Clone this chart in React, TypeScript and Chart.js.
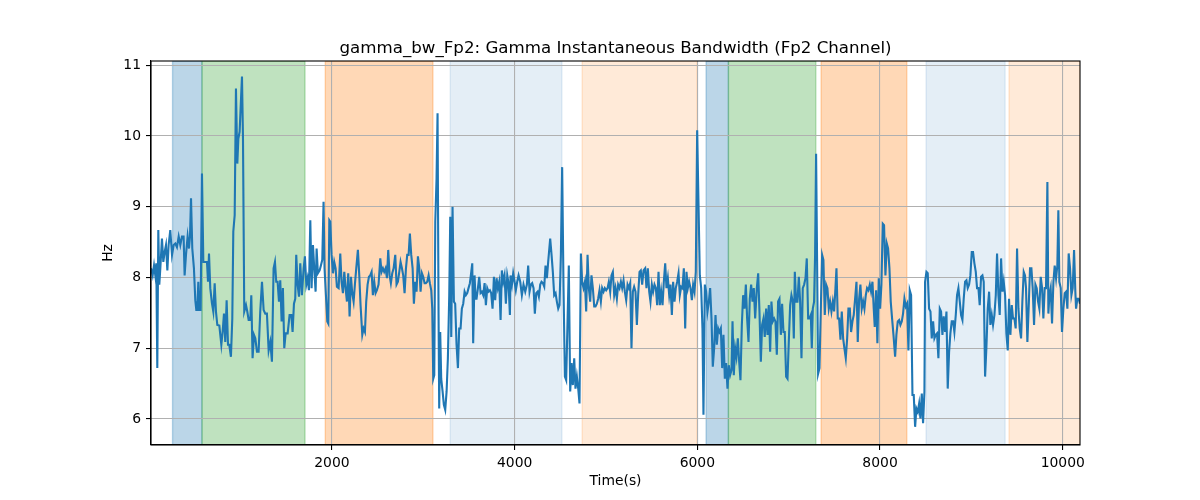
import React, { useEffect, useRef } from 'react';
import { Chart, registerables } from 'chart.js';

Chart.register(...registerables);

const FONT = "'DejaVu Sans', 'Liberation Sans', sans-serif";

const titleText = 'gamma_bw_Fp2: Gamma Instantaneous Bandwidth (Fp2 Channel)';
const xLabel = 'Time(s)';
const yLabel = 'Hz';

const timeSec: number[] = [
  19, 37, 52, 66, 77, 88, 99, 110, 121, 139, 154, 168, 183, 198, 212, 230, 249, 267, 285, 303,
  322, 340, 358, 376, 387, 402, 420, 435, 446, 457, 471, 489, 504, 515, 526, 537, 548, 562, 577, 592,
  613, 632, 643, 654, 668, 686, 701, 716, 730, 745, 767, 789, 803, 818, 832, 847, 862, 876, 894, 909,
  920, 935, 949, 964, 975, 989, 1015, 1026, 1040, 1059, 1073, 1088, 1106, 1117, 1131, 1146, 1161, 1179, 1197, 1215,
  1234, 1252, 1270, 1288, 1307,
  1325, 1343, 1361, 1376, 1390, 1405, 1420, 1434, 1449, 1463, 1478, 1493, 1515, 1536, 1555, 1569, 1584, 1598, 1609, 1624,
  1639, 1653, 1671, 1690, 1704, 1719, 1733, 1748, 1763, 1777, 1792, 1806, 1821, 1832, 1846, 1865, 1879, 1894, 1908, 1919,
  1934, 1949, 1960, 1971, 1981, 1996, 2011, 2025, 2040, 2054, 2073, 2091, 2105, 2120, 2135, 2149, 2164, 2178, 2193, 2208,
  2222, 2237, 2251, 2266, 2284, 2299, 2313, 2332, 2346, 2361, 2375, 2390, 2405, 2419, 2434, 2448, 2463, 2478, 2492, 2510,
  2529, 2543, 2558, 2572, 2587, 2602, 2616, 2631, 2645, 2660, 2675,
  2693, 2707, 2722, 2737, 2751, 2766, 2780, 2795, 2810, 2824, 2839, 2853, 2868, 2883, 2897, 2912, 2926, 2941, 2956, 2970,
  2985, 2999, 3014, 3028, 3043, 3058, 3072, 3087, 3098, 3109, 3120, 3131, 3145, 3156, 3167, 3174, 3185, 3196, 3211, 3225,
  3240, 3255, 3269, 3284, 3295, 3306, 3320, 3335, 3349, 3364, 3379, 3393, 3408, 3422, 3437, 3452, 3466, 3481, 3495, 3510,
  3525, 3536, 3546, 3561, 3572, 3583, 3598, 3612, 3627, 3641, 3656, 3671, 3685, 3700, 3714, 3729, 3743, 3758, 3773, 3787,
  3802, 3816, 3831, 3846, 3860, 3875, 3889, 3904, 3919, 3933, 3948, 3955, 3970, 3984, 3999, 4013, 4028, 4043,
  4061, 4079, 4097, 4116, 4134, 4148, 4163, 4178, 4192, 4207, 4221, 4236, 4251, 4265, 4280, 4294, 4309, 4324, 4338, 4353,
  4367, 4389, 4404, 4418, 4433, 4448, 4462, 4477, 4491, 4506, 4520, 4535, 4550, 4564, 4579, 4593, 4608, 4623, 4637, 4652,
  4666, 4681, 4696, 4710, 4725, 4739, 4754, 4769, 4783, 4798, 4812, 4827, 4841, 4856, 4871, 4885, 4900, 4914, 4929, 4944,
  4958, 4973, 4987, 5002, 5017, 5031, 5046, 5060, 5075, 5090, 5104, 5119, 5133, 5148, 5163, 5177, 5192, 5206, 5221, 5236,
  5250, 5265, 5279, 5294, 5308, 5323, 5338, 5352, 5367, 5381, 5396, 5411,
  5429, 5443, 5458, 5473, 5487, 5502, 5516, 5531, 5546, 5560, 5575, 5589, 5604, 5619, 5633, 5648, 5662, 5677, 5692, 5706,
  5721, 5735, 5750, 5764, 5779, 5794, 5808, 5823, 5837, 5852, 5867, 5881, 5896, 5910, 5925, 5940, 5954, 5969, 5983, 5998,
  6013, 6027, 6042, 6056, 6067, 6082, 6096, 6111, 6126, 6140, 6155, 6169, 6184, 6199, 6213, 6228, 6242, 6257, 6272, 6286,
  6301, 6315, 6330, 6344, 6359, 6374, 6385, 6399, 6414, 6428, 6443, 6458, 6472, 6487, 6501, 6516, 6531, 6545, 6560, 6574,
  6589, 6604, 6618, 6633, 6651, 6666, 6680, 6695, 6709, 6724, 6738, 6753, 6768, 6782,
  6797, 6811, 6826, 6841, 6855, 6870, 6884, 6899, 6914, 6928, 6943, 6957, 6972, 6987, 7001, 7016, 7030, 7045, 7056, 7067,
  7081, 7096, 7111, 7125, 7140, 7154, 7169, 7184, 7198, 7213, 7227, 7242, 7253, 7264, 7278, 7289, 7300, 7311, 7322, 7337,
  7351, 7366, 7380, 7395, 7410, 7424, 7439, 7453, 7468, 7483, 7497, 7512, 7523, 7537, 7552, 7567, 7581, 7596, 7610, 7625,
  7640, 7654, 7669, 7683, 7698, 7712, 7727, 7742, 7756, 7771, 7785, 7800, 7815, 7829, 7844, 7858, 7873, 7888, 7902, 7917,
  7931, 7942, 7957, 7971, 7986, 8001, 8015, 8030, 8044, 8059, 8074, 8088, 8103, 8117, 8132, 8147,
  8165, 8179, 8194, 8209, 8223, 8238, 8252, 8267, 8282, 8296, 8311, 8325, 8340, 8355, 8369, 8384, 8398, 8413, 8428, 8442,
  8457, 8471, 8486, 8493, 8508, 8522, 8537, 8552, 8566, 8581, 8595, 8610, 8624, 8639, 8654, 8668, 8683, 8697, 8712, 8727,
  8741, 8756, 8770, 8785, 8800, 8814, 8829, 8843, 8858, 8873, 8887, 8902, 8916, 8931, 8946, 8960, 8975, 8989, 9004, 9018,
  9033, 9048, 9062, 9077, 9091, 9106, 9121, 9135, 9150, 9164, 9179, 9194, 9208, 9223, 9237, 9252, 9267, 9281, 9296, 9310,
  9325, 9340, 9354, 9369, 9383, 9398, 9412, 9427, 9442, 9456, 9471, 9485, 9500, 9515, 9529, 9544, 9558, 9573,
  9587, 9598, 9613, 9628, 9642, 9657, 9671, 9686, 9701, 9715, 9730, 9744, 9759, 9774, 9788, 9803, 9817, 9832, 9843, 9854,
  9868, 9883, 9898, 9912, 9927, 9941, 9952, 9963, 9978, 9992, 10007, 10022, 10036, 10051, 10065, 10080, 10095, 10109, 10124, 10138,
  10146, 10160, 10175, 10189,
];

const bandwidthHz: number[] = [
  8.13, 8.03, 8.17, 8.03, 8.2, 6.72, 8.67, 7.9, 8.13, 8.55, 8.22, 8.36, 8.46, 8.1, 8.46, 8.67, 8.32, 8.46, 8.48, 8.43,
  8.58, 8.46, 8.58, 8.58, 8.03, 8.32, 8.58, 8.41, 8.58, 9.12, 8.41, 8.13, 7.68, 7.54, 7.54, 7.94, 7.54, 7.54, 9.47, 8.22,
  8.22, 8.22, 7.94, 8.34, 7.85, 7.64, 7.52, 7.92, 7.52, 7.33, 7.32, 7.05, 7.23, 7.49, 7.09, 7.68, 7.05, 7.05, 6.88, 7.42,
  8.65, 8.88, 10.67, 9.61, 9.96, 10.06, 10.84, 9.96, 7.52, 7.61, 7.52, 7.4, 7.4, 7.75, 6.86, 7.19, 7.14, 6.95, 6.95, 7.52,
  7.94, 7.54, 7.49, 7.49, 6.97,
  7.09, 6.81, 8.13, 8.22, 7.94, 7.94, 7.66, 7.96, 7.38, 7.85, 7.0, 7.21, 7.21, 7.47, 7.47, 7.23, 7.63, 7.7, 8.32, 7.9,
  7.73, 8.2, 7.75, 8.13, 8.3, 7.9, 7.99, 7.82, 8.81, 7.85, 8.46, 8.13, 7.8, 8.41, 8.06, 8.1, 8.17, 8.25, 9.07, 8.13,
  7.75, 7.38, 7.35, 8.81, 8.79, 8.32, 8.06, 8.22, 8.13, 7.87, 7.85, 8.34, 7.94, 7.78, 8.08, 7.85, 7.66, 8.06, 7.45, 8.01,
  7.78, 7.66, 7.9, 8.13, 8.39, 8.03, 7.61, 7.19, 7.28, 7.23, 7.66, 7.9, 8.01, 8.03, 8.08, 7.75, 7.94, 7.78, 7.82, 7.9,
  8.27, 8.08, 8.13, 8.08, 8.13, 7.99, 8.39, 8.03, 7.92, 8.06, 8.13,
  8.32, 7.9, 7.94, 8.08, 8.22, 8.13, 8.03, 7.78, 8.13, 8.32, 8.32, 8.62, 8.32, 8.13, 7.63, 7.94, 7.8, 8.3, 8.13, 7.8,
  8.06, 8.01, 7.92, 7.92, 7.94, 8.03, 7.92, 7.82, 7.56, 6.57, 6.62, 8.79, 9.4, 10.32, 7.47, 6.15, 7.23, 6.57, 6.39, 6.2,
  6.13, 6.39, 6.86, 7.75, 8.86, 7.16, 9.0, 7.66, 7.63, 7.05, 6.72, 7.28, 7.28, 7.56, 7.63, 7.8, 7.75, 7.78, 7.85, 7.92,
  8.08, 8.2, 7.07, 8.03, 7.7, 7.7, 7.85, 8.01, 7.78, 7.8, 7.75, 7.92, 7.61, 7.85, 7.8, 7.82, 7.78, 7.56, 8.01, 7.68,
  7.99, 7.85, 7.94, 7.4, 8.1, 7.94, 8.03, 7.63, 8.03, 7.92, 7.47, 8.03, 7.9, 8.06, 7.94, 7.82, 7.94, 8.03,
  7.94, 7.75, 7.9, 7.8, 7.9, 8.17, 7.8, 7.9, 7.92, 7.85, 7.49, 7.78, 7.8, 7.73, 7.9, 7.94, 7.92, 7.87, 8.17, 7.99,
  8.22, 8.55, 8.32, 8.08, 7.75, 7.78, 7.66, 7.56, 7.61, 8.32, 9.56, 7.85, 6.6, 6.55, 7.38, 8.17, 6.39, 6.79, 6.48, 6.86,
  6.43, 6.6, 6.43, 6.22, 8.34, 7.94, 7.85, 7.94, 7.52, 8.32, 7.85, 7.66, 8.03, 7.85, 7.59, 7.59, 7.63, 7.7, 7.82, 7.66,
  7.85, 7.8, 7.85, 7.82, 7.85, 7.94, 7.8, 8.03, 8.08, 7.75, 7.85, 7.7, 7.9, 7.85, 7.94, 7.85, 7.96, 7.8, 7.68, 7.9,
  7.85, 7.92, 7.0, 7.8, 7.87, 7.8, 7.33, 7.75, 8.08, 8.1, 7.9, 8.1,
  8.13, 7.85, 8.13, 7.8, 7.66, 7.9, 7.8, 7.9, 7.85, 7.61, 8.08, 7.61, 7.8, 7.61, 7.94, 8.2, 7.85, 7.99, 7.75, 7.9,
  7.47, 7.94, 7.66, 7.85, 7.94, 8.06, 7.75, 7.87, 7.85, 8.13, 7.28, 8.08, 7.85, 7.94, 7.85, 7.68, 7.9, 7.8, 8.08, 10.08,
  9.02, 8.03, 7.85, 7.28, 6.06, 7.9, 7.8, 7.52, 7.66, 7.85, 7.42, 6.74, 7.0, 7.47, 7.05, 7.28, 7.23, 7.28, 6.72, 7.19,
  6.57, 6.79, 6.43, 6.76, 6.62, 6.69, 7.38, 6.62, 7.0, 6.88, 7.14, 6.81, 6.55, 7.33, 7.75, 7.56, 7.9, 7.42, 7.09, 7.7,
  7.9, 7.66, 7.85, 7.42, 7.85, 8.06, 7.52, 6.81, 7.33, 7.42, 7.16, 7.56, 7.19, 7.61,
  6.95, 7.66, 7.38, 7.42, 7.38, 6.91, 7.66, 7.7, 7.19, 7.63, 7.23, 7.23, 6.6, 6.57, 7.09, 7.61, 7.75, 7.66, 7.14, 8.08,
  7.66, 7.66, 8.01, 7.66, 6.86, 7.85, 7.9, 7.99, 8.27, 7.42, 7.42, 7.47, 7.0, 7.56, 7.66, 8.32, 9.75, 8.22, 6.64, 6.72,
  7.52, 8.32, 8.25, 7.47, 7.9, 7.85, 7.56, 7.66, 7.52, 7.66, 7.52, 7.85, 8.13, 7.42, 7.42, 7.12, 7.52, 7.14, 7.0, 6.86,
  7.14, 7.56, 7.56, 7.23, 7.38, 7.47, 7.7, 7.94, 7.09, 7.7, 7.9, 7.56, 7.66, 7.56, 7.75, 7.85, 7.82, 7.9, 7.8, 7.94,
  7.56, 7.3, 7.82, 7.07, 7.99, 7.56, 7.9, 8.76, 8.74, 8.03, 8.48, 8.41, 8.13, 7.66, 7.42, 7.19,
  6.88, 7.19, 7.38, 7.4, 7.33, 7.38, 7.49, 7.7, 7.59, 7.63, 6.97, 7.82, 7.75, 6.34, 6.34, 5.89, 6.15, 6.1, 6.22, 6.01,
  6.36, 5.94, 6.39, 7.94, 8.08, 8.06, 7.56, 7.52, 7.14, 7.38, 7.14, 7.19, 7.21, 6.86, 7.56, 7.52, 7.19, 7.45, 7.23, 7.52,
  6.43, 6.95, 7.21, 7.38, 7.38, 7.23, 7.47, 7.75, 7.85, 7.66, 7.47, 7.4, 7.7, 7.94, 7.96, 7.85, 7.9, 8.03, 8.36, 8.36,
  8.2, 8.08, 7.85, 7.85, 7.61, 8.01, 8.03, 7.94, 6.6, 7.0, 7.56, 7.8, 7.33, 7.47, 7.33, 7.47, 7.75, 8.34, 7.75, 7.47,
  8.27, 7.8, 7.94, 7.75, 7.21, 6.97, 7.7, 7.19, 7.61, 7.42, 7.42, 7.28, 8.41, 7.56, 7.28, 7.14, 7.66, 8.08,
  8.03, 7.85, 7.09, 7.61, 8.13, 8.13, 7.85, 7.33, 7.9, 7.85, 7.66, 7.56, 8.01, 7.85, 7.42, 7.85, 7.85, 9.35, 7.49, 7.75,
  7.85, 7.35, 7.94, 8.17, 7.99, 8.17, 8.95, 7.94, 7.85, 7.23, 7.56, 7.78, 7.8, 7.56, 8.34, 8.13, 7.75, 7.85, 8.39, 7.8,
  7.56, 7.7, 7.7, 7.63,
];

// Shaded epochs (axvspan)
const spanStart: number[] = [255, 577, 1927, 3295, 4739, 6096, 6340, 7355, 8504, 9412];
const spanEnd: number[] = [577, 1705, 3105, 4517, 5995, 6340, 7297, 8293, 9369, 10189];
const spanColor: string[] = [
  'rgba(31,119,180,0.3)',
  'rgba(44,160,44,0.3)',
  'rgba(255,127,14,0.3)',
  'rgba(31,119,180,0.12)',
  'rgba(255,127,14,0.16)',
  'rgba(31,119,180,0.3)',
  'rgba(44,160,44,0.3)',
  'rgba(255,127,14,0.3)',
  'rgba(31,119,180,0.12)',
  'rgba(255,127,14,0.16)',
];

const xTickValues: number[] = [2000, 4000, 6000, 8000, 10000];
const yTickValues: number[] = [6, 7, 8, 9, 10, 11];
const xMin = 19;
const xMax = 10189;
const yMin = 5.633;
const yMax = 11.06;

export default function App() {
  const canvasRef = useRef<HTMLCanvasElement>(null);

  useEffect(() => {
    document.body.style.margin = '0';
    const canvas = canvasRef.current;
    if (!canvas) return;

    const spansPlugin = {
      id: 'spans',
      beforeDraw(chart: any) {
        const { ctx, chartArea, scales } = chart;
        const h = chartArea.bottom - chartArea.top;
        ctx.save();
        ctx.beginPath();
        ctx.rect(chartArea.left, chartArea.top, chartArea.right - chartArea.left, h);
        ctx.clip();
        for (let i = 0; i < spanStart.length; i++) {
          const x0 = scales.x.getPixelForValue(spanStart[i]);
          const x1 = scales.x.getPixelForValue(spanEnd[i]);
          ctx.fillStyle = spanColor[i];
          ctx.fillRect(x0, chartArea.top, x1 - x0, h);
          ctx.strokeStyle = spanColor[i];
          ctx.lineWidth = 1.4;
          ctx.strokeRect(x0, chartArea.top, x1 - x0, h);
        }
        ctx.restore();
      },
    };

    const framePlugin = {
      id: 'frame',
      afterDatasetsDraw(chart: any) {
        const { ctx, chartArea } = chart;
        ctx.save();
        ctx.strokeStyle = '#000';
        ctx.lineWidth = 1.1;
        ctx.strokeRect(
          chartArea.left,
          chartArea.top,
          chartArea.right - chartArea.left,
          chartArea.bottom - chartArea.top
        );
        ctx.restore();
      },
    };

    const tickFont = { family: FONT, size: 13.9, lineHeight: 1.2 };

    const chart = new Chart(canvas, {
      type: 'line',
      data: {
        datasets: [
          {
            data: timeSec.map((t, i) => ({ x: t, y: bandwidthHz[i] })),
            borderColor: '#1f77b4',
            borderWidth: 2.1,
            pointRadius: 0,
            pointHoverRadius: 0,
            tension: 0,
            fill: false,
          },
        ],
      },
      options: {
        responsive: false,
        animation: false,
        events: [],
        layout: { padding: { left: 0, right: 120, top: 0, bottom: 0 } },
        plugins: {
          legend: { display: false },
          tooltip: { enabled: false },
          title: {
            display: true,
            text: titleText,
            fullSize: false,
            color: '#000',
            font: { family: FONT, size: 16.67, weight: 'normal', lineHeight: 1.2 },
            padding: { top: 39, bottom: 2 },
          },
        },
        scales: {
          x: {
            type: 'linear',
            min: xMin,
            max: xMax,
            afterBuildTicks: (scale: any) => {
              scale.ticks = xTickValues.map((v) => ({ value: v }));
            },
            afterFit: (scale: any) => {
              scale.height = 55;
            },
            ticks: {
              callback: (v: any) => String(v),
              color: '#000',
              font: tickFont,
              padding: 5,
              maxRotation: 0,
              autoSkip: false,
            },
            grid: {
              color: '#b0b0b0',
              lineWidth: 1.1,
              tickLength: 5,
              tickColor: '#000',
              tickWidth: 1.1,
            },
            border: { display: true, color: '#000', width: 1.1 },
            title: {
              display: true,
              text: xLabel,
              color: '#000',
              font: tickFont,
              padding: { top: 0, bottom: 10 },
            },
          },
          y: {
            type: 'linear',
            min: yMin,
            max: yMax,
            afterBuildTicks: (scale: any) => {
              scale.ticks = yTickValues.map((v) => ({ value: v }));
            },
            afterFit: (scale: any) => {
              scale.width = 151;
            },
            ticks: {
              callback: (v: any) => String(v),
              color: '#000',
              font: tickFont,
              padding: 5,
              autoSkip: false,
            },
            grid: {
              color: '#b0b0b0',
              lineWidth: 1.1,
              tickLength: 5,
              tickColor: '#000',
              tickWidth: 1.1,
            },
            border: { display: true, color: '#000', width: 1.1 },
            title: {
              display: true,
              text: yLabel,
              color: '#000',
              font: tickFont,
              padding: { top: 100, bottom: 0 },
            },
          },
        },
      },
      plugins: [spansPlugin, framePlugin],
    } as any);

    return () => {
      chart.destroy();
    };
  }, []);

  return (
    <div style={{ width: 1200, height: 500, position: 'relative' }}>
      <canvas ref={canvasRef} width={1200} height={500} style={{ display: 'block' }} />
    </div>
  );
}
